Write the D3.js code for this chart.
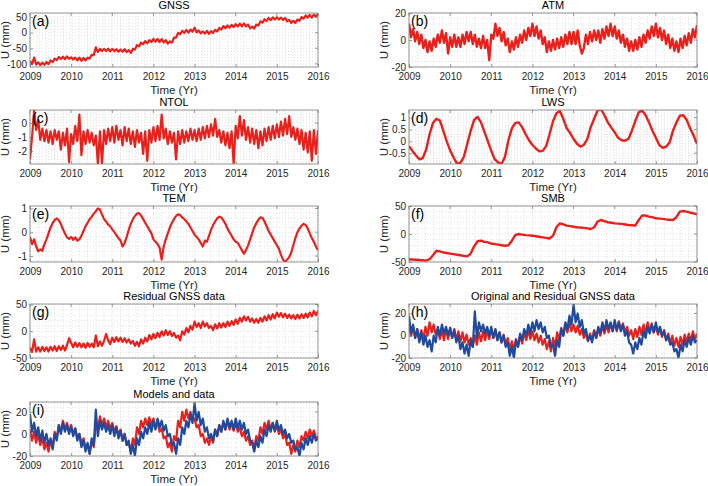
<!DOCTYPE html>
<html><head><meta charset="utf-8">
<script src="https://cdn.jsdelivr.net/npm/d3@7"></script>
<style>body{margin:0;background:#fff}svg{display:block;font-family:"Liberation Sans",Arial,Helvetica,sans-serif}</style>
</head><body><svg id="c" width="708" height="486"></svg>
<script>
// ---------- data ----------
const years = [2009, 2010, 2011, 2012, 2013, 2014, 2015, 2016];
const startYear = 2009;
const stepFine = 0.05;      // sampling of noisy series (yr)
const stepMonth = 1 / 12;   // sampling of smooth series (yr)

const gnss = [
-91,-101,-80,-102,-95,-104,-96,-103,-94,-101,-89,-94,-83,-88,-78,-84,-77,-85,-76,-84,
-79,-86,-80,-89,-80,-90,-81,-89,-80,-83,-71,-72,-47,-62,-52,-59,-52,-59,-51,-60,
-52,-59,-53,-61,-54,-61,-53,-62,-56,-65,-52,-54,-40,-44,-32,-37,-27,-34,-24,-30,
-20,-29,-20,-30,-21,-31,-24,-35,-28,-32,-16,-16,-1,-5,6,-1,9,0,10,3,
16,1,7,-2,4,-3,6,-4,5,-1,9,4,15,10,21,14,23,16,25,18,
27,20,29,20,30,20,26,14,19,13,26,23,36,32,43,37,47,40,49,42,
49,42,48,41,47,36,41,31,38,31,42,38,50,45,55,48,57,48,58,51,
60];

const atm = [
12,2,8,-1,6,-3,4,-6,0,-9,-1,-8,1,-5,4,-2,7,-2,5,-10,
2,-5,4,-5,2,-5,4,-3,6,-1,6,-3,4,-5,1,-6,3,-6,0,-15,
4,1,12,3,9,-1,6,-4,1,-9,-1,-7,2,-5,4,-2,7,0,9,3,
12,3,10,1,7,-3,2,-9,-1,-8,0,-7,1,-6,2,-5,4,-3,6,-3,
6,-3,7,-4,-10,-6,4,-3,6,-1,7,0,7,-2,8,1,10,3,12,3,
10,1,7,-2,4,-5,1,-8,-1,-8,0,-7,2,-5,4,-2,7,1,10,3,
12,2,9,0,7,-3,4,-6,1,-8,-1,-9,1,-6,3,-4,5,-2,8,2,
11];

const ntol = [
-2.6,-1.0,0.9,-0.5,0.2,-1.2,-0.4,-1.3,-0.5,-1.4,-0.6,-1.5,-0.5,-1.2,-0.6,-1.9,-0.7,-1.6,-0.4,-2.8,
-0.8,-1.5,-0.2,-1.3,0.6,-2.3,-0.6,-1.5,-0.5,-1.4,-0.7,-1.6,-0.9,-2.9,-0.6,-2.9,-0.5,-1.5,-0.4,-1.3,
-0.3,-1.4,-0.2,-1.2,-0.5,-1.6,-0.3,-1.3,-0.4,-1.5,-0.6,-1.7,-0.5,-1.4,-0.7,-2.2,-0.6,-2.7,-0.5,-1.4,
-0.3,-1.3,-0.2,-1.2,0.6,-1.1,-0.4,-1.5,-0.6,-1.4,-0.7,-2.6,-0.6,-1.5,-0.5,-1.4,-0.6,-1.3,-0.4,-1.2,
-0.5,-1.3,-0.4,-1.2,-0.3,-1.1,-0.2,-1.0,-0.1,-0.9,0.3,-1.0,-0.5,-1.4,-0.6,-1.6,-0.7,-1.8,-0.6,-2.9,
-0.2,-1.1,0.5,-0.9,0.2,-1.2,-0.3,-1.4,-0.4,-1.5,-0.5,-1.8,-0.6,-1.6,-0.4,-1.3,-0.3,-1.2,-0.2,-1.1,
-0.1,-1.0,0.1,-0.9,0.3,-0.8,0.5,-1.0,-0.3,-1.2,-0.4,-1.5,-0.5,-1.9,-0.7,-2.1,-0.6,-2.7,-0.5,-2.2,
-0.5];

const lws = [
-0.20,-0.40,-0.58,-0.75,-0.70,-0.35,0.30,0.78,0.95,0.88,0.45,0.00,
-0.38,-0.68,-0.93,-0.90,-0.65,-0.10,0.45,0.90,1.03,0.80,0.40,0.00,
-0.40,-0.75,-0.88,-0.95,-0.65,0.05,0.55,0.78,0.80,0.60,0.30,0.05,
-0.15,-0.30,-0.42,-0.40,-0.20,0.30,0.85,1.18,1.28,0.95,0.55,0.35,
0.10,-0.10,-0.22,-0.15,0.10,0.60,0.95,1.30,1.36,1.10,0.80,0.58,
0.38,0.15,0.05,0.03,0.10,0.45,0.85,1.22,1.30,1.10,0.80,0.45,
0.15,-0.15,-0.27,-0.22,-0.05,0.45,0.80,1.08,1.10,0.90,0.55,0.25,
-0.10];

const tem = [
-0.20,-0.50,-0.30,-0.60,-0.80,-0.72,-0.78,-0.50,-0.30,-0.05,0.20,0.38,0.52,0.58,0.50,0.35,0.12,-0.05,-0.22,-0.28,
-0.20,-0.32,-0.22,-0.35,-0.30,-0.15,0.05,0.25,0.40,0.55,0.65,0.78,0.88,1.00,0.95,0.75,0.55,0.45,0.32,0.25,
0.12,0.00,-0.12,-0.25,-0.35,-0.60,-0.45,-0.20,0.10,0.35,0.55,0.68,0.78,0.80,0.70,0.55,0.40,0.25,0.10,-0.05,
-0.30,-0.40,-0.50,-0.65,-1.15,-0.60,-0.30,-0.05,0.20,0.40,0.55,0.68,0.75,0.72,0.62,0.55,0.45,0.35,0.20,0.05,
-0.10,-0.20,-0.30,-0.45,-0.60,-0.35,-0.40,-0.15,0.10,0.30,0.45,0.58,0.65,0.62,0.50,0.35,0.15,0.00,-0.15,-0.30,
-0.40,-0.45,-0.60,-0.75,-0.90,-0.75,-0.55,-0.30,-0.05,0.20,0.38,0.52,0.62,0.60,0.45,0.25,0.05,-0.10,-0.25,-0.40,
-0.55,-0.70,-0.95,-1.15,-1.25,-1.15,-1.05,-0.85,-0.55,-0.25,0.00,0.15,0.28,0.35,0.30,0.15,-0.05,-0.25,-0.40,-0.60,
-0.75];

const smb = [
-45,-45.5,-46,-46.5,-47,-47.5,-45,-38,-30,-31,-33,-34,
-35,-36,-37,-38,-39,-40,-35,-22,-13,-12,-14,-15,
-17,-18,-19,-20,-21,-20,-12,-2,0,-1,-2,-2.5,
-3,-4,-5,-6,-7,-8,-3,12,19,17,15,14,
13,12,11.5,11,10,9,12,22,25,23,21,20,
19,18.5,18,17,16,15.5,15,25,33,33,31,30,
28,27.5,27,26,25.5,25,30,40,41,40,38,37,
35];

const residual = [
-31,-39,-15,-38,-30,-38,-29,-37,-30,-38,-29,-36,-28,-37,-28,-35,-27,-36,-26,-13,
-22,-30,-21,-29,-22,-30,-23,-31,-22,-29,-23,-30,-8,-28,-19,-27,-18,-5,-17,-24,
-12,-20,-11,-19,-12,-20,-13,-21,-15,-23,-18,-27,-20,-28,-15,-23,-12,-19,-7,-15,
-5,-13,-3,-11,0,-8,2,-7,0,-9,-3,-12,-8,-17,0,-6,6,-2,10,3,
18,8,15,6,18,9,15,6,10,2,13,5,15,7,15,8,18,10,19,12,
22,14,25,18,28,20,27,18,24,16,23,16,25,18,28,20,30,22,32,24,
35,27,34,26,33,25,31,24,30,23,31,24,32,25,33,26,35,28,38,30,
38];

const residualDetrended = [
10,0,8,-2,6,-3,5,-3,8,0,12,3,10,1,6,-3,5,-4,6,-3,
7,-2,6,-4,4,-5,3,-6,1,-8,-2,-10,0,-8,3,-5,4,-4,5,-3,
6,-2,5,-4,3,-6,1,-8,-2,-12,-5,-13,-3,-10,0,-7,3,-4,5,-3,
4,-4,2,-6,0,-8,-3,-12,-5,-14,-2,-10,3,-4,7,0,10,3,12,4,
10,3,9,1,6,-2,3,-5,2,-4,5,-2,7,0,9,2,10,3,11,4,
12,4,13,5,11,3,8,0,5,-3,6,-1,8,1,10,2,12,4,11,3,
9,1,7,-1,5,-4,2,-7,0,-9,-2,-10,-1,-8,1,-6,2,-5,4,-3,
2];

const originalDetrended = [
18,2,10,-2,6,-6,3,-8,0,-10,-4,-14,0,-6,8,0,10,2,8,0,
7,-2,5,-6,0,-12,-6,-16,-8,-18,-4,-10,22,-2,12,4,10,2,8,0,
8,-2,6,-4,3,-6,0,-10,-6,-18,-10,-20,-4,-10,2,-4,6,0,10,2,
12,4,14,6,12,3,8,-2,0,-10,-8,-18,-4,-10,6,0,12,6,18,10,
28,12,20,8,14,2,6,-4,0,-6,4,-2,8,2,12,4,14,6,12,4,
14,5,12,4,10,0,4,-6,-8,-16,-6,-12,-2,-8,4,-2,8,2,10,3,
12,3,8,0,4,-4,0,-8,-6,-14,-12,-20,-8,-14,-4,-10,-2,-8,0,-6,
-4];

const modelsSum = [
4,-6,2,-8,0,-10,-4,-14,-8,-16,-6,-12,2,-4,8,2,12,4,10,2,
8,0,5,-3,0,-8,-4,-12,-10,-18,-6,-12,8,4,16,8,14,6,12,4,
10,2,7,-1,4,-6,0,-10,-8,-16,-4,-10,6,0,12,6,14,8,15,8,
14,6,10,2,5,-4,-2,-12,-8,-16,-2,-6,12,6,20,12,22,14,20,12,
14,6,8,-2,0,-8,-4,-10,-2,-8,4,-2,8,2,10,4,12,4,10,3,
10,2,6,-2,2,-6,-2,-10,-6,-14,-2,-6,6,0,10,4,12,4,10,2,
8,0,4,-4,0,-10,-8,-18,-10,-16,-6,-12,-2,-6,2,-4,4,-2,3,-4,
-2];

const titles = ["GNSS","ATM","NTOL","LWS","TEM","SMB","Residual GNSS data","Original and Residual GNSS data","Models and data"];
const tags = ["(a)","(b)","(c)","(d)","(e)","(f)","(g)","(h)","(i)"];
const xLabel = "Time (Yr)";
const yLabel = "U (mm)";
const yDomains = [[-110,63],[-20,20],[-2.93,0.93],[-0.95,1.32],[-1.25,1.1],[-50,50],[-50,51],[-20,28.5],[-20,29]];
const yTicks = [[-100,-50,0,50],[-20,0,20],[-2,-1,0],[-0.5,0,0.5,1],[-1,0,1],[-50,0,50],[-50,0,50],[-20,0,20],[-20,0,20]];
const yMinor = [10,4,0.2,0.1,0.2,10,10,4,4];

// ---------- style / layout ----------
const RED = "#e8211c", BLUE = "#1f4a9e";
const colX = [[30,318],[409,697]];
const rowY = [[13,67],[110,164],[206,262],[304,358],[402,456]];
const seriesOf = [
  [{v:gnss,s:stepFine,c:RED,w:2.2}],
  [{v:atm,s:stepFine,c:RED,w:2.4}],
  [{v:ntol,s:stepFine,c:RED,w:2.2}],
  [{v:lws,s:stepMonth,c:RED,w:2.4}],
  [{v:tem,s:stepFine,c:RED,w:2.2}],
  [{v:smb,s:stepMonth,c:RED,w:2.4}],
  [{v:residual,s:stepFine,c:RED,w:2.2}],
  [{v:residualDetrended,s:stepFine,c:RED,w:2.2},{v:originalDetrended,s:stepFine,c:BLUE,w:2.2}],
  [{v:modelsSum,s:stepFine,c:RED,w:2.2},{v:originalDetrended,s:stepFine,c:BLUE,w:2.2}]
];

const svg = d3.select("#c");
svg.append("rect").attr("width",708).attr("height",486).attr("fill","#fff");
const defs = svg.append("defs");

titles.forEach((title, k) => {
  const col = k % 2, row = Math.floor(k / 2);
  const [x0,x1] = colX[col], [y0,y1] = rowY[row];
  const x = d3.scaleLinear().domain([years[0], years[years.length-1]]).range([x0,x1]);
  const y = d3.scaleLinear().domain(yDomains[k]).range([y1,y0]);
  const g = svg.append("g");

  // minor dotted grid
  const gx = d3.range(years[0], years[years.length-1] + 1e-9, 0.2);
  g.selectAll(null).data(gx).join("line")
    .attr("x1", d => x(d)).attr("x2", d => x(d)).attr("y1", y0).attr("y2", y1)
    .attr("stroke", "#cfcfcf").attr("stroke-width", 0.6).attr("stroke-dasharray", "1,2");
  const [dmin, dmax] = yDomains[k], m = yMinor[k];
  const gy = d3.range(Math.ceil(dmin / m) * m, dmax + 1e-9, m);
  g.selectAll(null).data(gy).join("line")
    .attr("x1", x0).attr("x2", x1).attr("y1", d => y(d)).attr("y2", d => y(d))
    .attr("stroke", "#cfcfcf").attr("stroke-width", 0.6).attr("stroke-dasharray", "1,2");

  // clip
  defs.append("clipPath").attr("id", "cp" + k).append("rect")
    .attr("x", x0).attr("y", y0).attr("width", x1 - x0).attr("height", y1 - y0);

  const lg = g.append("g").attr("clip-path", `url(#cp${k})`);
  seriesOf[k].forEach(sr => {
    const line = d3.line().x((d, i) => x(startYear + i * sr.s)).y(d => y(d));
    lg.append("path").datum(sr.v).attr("d", line)
      .attr("fill", "none").attr("stroke", sr.c).attr("stroke-width", sr.w)
      .attr("stroke-linejoin", "round");
  });

  // axes
  const ax = g.append("g").attr("transform", `translate(0,${y1})`)
    .call(d3.axisBottom(x).tickValues(years).tickFormat(d3.format("d")).tickSize(-3).tickPadding(6));
  const ay = g.append("g").attr("transform", `translate(${x0},0)`)
    .call(d3.axisLeft(y).tickValues(yTicks[k]).tickFormat(d => String(d)).tickSize(-3).tickPadding(3));
  [ax, ay].forEach(a => {
    a.select(".domain").remove();
    a.selectAll("line").attr("stroke", "#6e6e6e").attr("stroke-width", 0.7);
    a.selectAll("text").attr("fill", "#262626").attr("font-size", 10)
      .attr("font-family", '"Liberation Sans",Arial,Helvetica,sans-serif');
  });
  // mirrored ticks top / right
  g.selectAll(null).data(years).join("line")
    .attr("x1", d => x(d)).attr("x2", d => x(d)).attr("y1", y0).attr("y2", y0 + 3)
    .attr("stroke", "#6e6e6e").attr("stroke-width", 0.7);
  g.selectAll(null).data(yTicks[k]).join("line")
    .attr("x1", x1).attr("x2", x1 - 3).attr("y1", d => y(d)).attr("y2", d => y(d))
    .attr("stroke", "#6e6e6e").attr("stroke-width", 0.7);

  // frame
  g.append("rect").attr("x", x0).attr("y", y0).attr("width", x1 - x0).attr("height", y1 - y0)
    .attr("fill", "none").attr("stroke", "#7a7a7a").attr("stroke-width", 0.8);

  // texts
  g.append("text").attr("x", (x0 + x1) / 2).attr("y", y0 - 4).attr("text-anchor", "middle")
    .attr("font-size", 11).attr("fill", "#000").text(title);
  g.append("text").attr("x", (x0 + x1) / 2).attr("y", y1 + 27).attr("text-anchor", "middle")
    .attr("font-size", 11.5).attr("fill", "#262626").text(xLabel);
  g.append("text").attr("transform", `translate(${x0 - 21},${(y0 + y1) / 2}) rotate(-90)`)
    .attr("text-anchor", "middle").attr("font-size", 11.5).attr("fill", "#262626").text(yLabel);
  g.append("text").attr("x", x0 + 2).attr("y", y0 + 13).attr("font-size", 14).attr("fill", "#000").text(tags[k]);
});
</script></body></html>
